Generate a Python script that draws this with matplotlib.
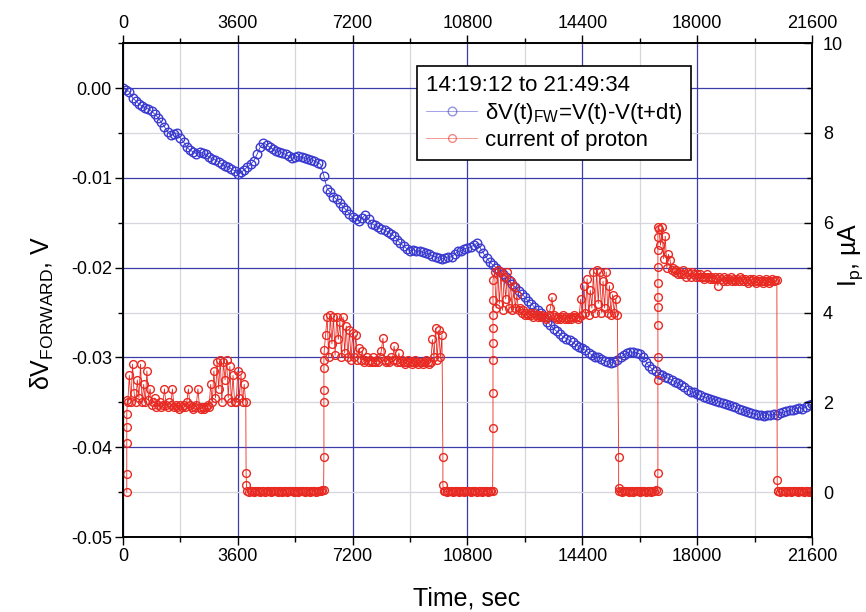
import numpy as np
import matplotlib
matplotlib.use('Agg')
import matplotlib.pyplot as plt
from matplotlib.ticker import MultipleLocator, FuncFormatter

plt.rcParams['font.family'] = ['Liberation Sans', 'DejaVu Sans']
plt.rcParams['mathtext.fontset'] = 'custom'
plt.rcParams['mathtext.rm'] = 'Liberation Sans'
plt.rcParams['mathtext.it'] = 'Liberation Sans:italic'

# forward voltage drift, every 100 s (volts)
dv_t0 = 0
dv_step = 100
dv_v = [0.0000, -0.0002, -0.0004, -0.0011, -0.0014, -0.0018, -0.0020, -0.0022, -0.0023, -0.0026,
        -0.0029, -0.0033, -0.0038, -0.0043, -0.0049, -0.0052, -0.0051, -0.0050, -0.0056, -0.0060,
        -0.0066, -0.0069, -0.0071, -0.0073, -0.0071, -0.0072, -0.0074, -0.0077, -0.0079, -0.0080,
        -0.0082, -0.0085, -0.0087, -0.0088, -0.0090, -0.0092, -0.0096, -0.0094, -0.0091, -0.0088,
        -0.0085, -0.0081, -0.0074, -0.0066, -0.0061, -0.0063, -0.0066, -0.0068, -0.0070, -0.0071,
        -0.0072, -0.0074, -0.0076, -0.0078, -0.0077, -0.0076, -0.0077, -0.0078, -0.0079, -0.0080,
        -0.0081, -0.0083, -0.0085, -0.0098, -0.0112, -0.0116, -0.0121, -0.0124, -0.0128, -0.0132,
        -0.0136, -0.0140, -0.0144, -0.0146, -0.0148, -0.0145, -0.0141, -0.0146, -0.0151, -0.0153,
        -0.0155, -0.0157, -0.0158, -0.0160, -0.0162, -0.0165, -0.0169, -0.0173, -0.0176, -0.0179,
        -0.0181, -0.0180, -0.0182, -0.0181, -0.0183, -0.0184, -0.0185, -0.0187, -0.0188, -0.0189,
        -0.0190, -0.0189, -0.0188, -0.0188, -0.0185, -0.0182, -0.0181, -0.0179, -0.0178, -0.0177,
        -0.0175, -0.0173, -0.0178, -0.0184, -0.0189, -0.0194, -0.0197, -0.0200, -0.0204, -0.0207,
        -0.0210, -0.0214, -0.0218, -0.0222, -0.0226, -0.0229, -0.0233, -0.0237, -0.0240, -0.0244,
        -0.0247, -0.0251, -0.0255, -0.0260, -0.0264, -0.0268, -0.0271, -0.0274, -0.0277, -0.0279,
        -0.0281, -0.0283, -0.0286, -0.0288, -0.0290, -0.0292, -0.0295, -0.0297, -0.0299, -0.0300,
        -0.0302, -0.0304, -0.0305, -0.0306, -0.0305, -0.0303, -0.0300, -0.0297, -0.0295, -0.0294,
        -0.0294, -0.0295, -0.0296, -0.0300, -0.0305, -0.0310, -0.0313, -0.0315, -0.0318, -0.0320,
        -0.0322, -0.0323, -0.0325, -0.0327, -0.0329, -0.0331, -0.0333, -0.0336, -0.0338, -0.0339,
        -0.0341, -0.0342, -0.0344, -0.0345, -0.0346, -0.0347, -0.0348, -0.0350, -0.0351, -0.0352,
        -0.0353, -0.0354, -0.0355, -0.0357, -0.0358, -0.0360, -0.0361, -0.0362, -0.0363, -0.0364,
        -0.0364, -0.0365, -0.0364, -0.0364, -0.0363, -0.0364, -0.0362, -0.0361, -0.0360, -0.0359,
        -0.0358, -0.0357, -0.0356, -0.0357, -0.0355, -0.0353, -0.0352]

# proton current (uA): plateaus read every 50 s, edges caught mid-transition
edge1_t = [120, 120, 120, 120, 120, 140]
edge1_i = [0.0, 0.4, 1.1, 1.45, 1.75, 2.05]
plateau1_t0 = 150
plateau1_i = [2.0, 2.6, 2.0, 2.85, 2.2, 2.0, 2.5, 2.1, 2.85, 2.0,
              2.4, 2.0, 2.7, 2.05, 2.3, 1.95, 2.0, 2.1, 1.9, 1.95,
              2.0, 1.9, 1.95, 2.3, 1.95, 1.9, 2.0, 1.95, 2.3, 1.9,
              1.95, 1.9, 1.85, 1.95, 1.9, 1.95, 1.9, 2.0, 2.3, 1.95,
              1.9, 1.85, 1.9, 1.95, 2.3, 1.9, 1.85, 1.9, 1.85, 1.9,
              1.95, 1.9, 2.4, 2.0, 2.7, 2.1, 2.9, 2.3, 2.95, 2.0,
              2.9, 2.5, 2.95, 2.1, 2.8, 2.0, 2.6, 2.0, 2.0, 2.7,
              2.1, 2.6, 2.0, 2.4]
edge2_t = [3850, 3860, 3870]
edge2_i = [2.0, 0.42, 0.16]
zero1_t0 = 3900
zero1_i = [0.02, 0.0, 0.03, 0.02, 0.0, 0.02, 0.02, 0.03, 0.0, 0.02,
           0.02, 0.0, 0.03, 0.02, 0.02, 0.0, 0.02, 0.03, 0.02, 0.0,
           0.02, 0.02, 0.0, 0.03, 0.02, 0.0, 0.02, 0.02, 0.03, 0.0,
           0.02, 0.02, 0.0, 0.02, 0.03, 0.02, 0.0, 0.02, 0.02, 0.0,
           0.03, 0.02, 0.02, 0.0, 0.02, 0.03, 0.02, 0.05]
edge3_t = [6290, 6300, 6300, 6300, 6300, 6300, 6310]
edge3_i = [0.05, 0.78, 2.0, 2.27, 2.76, 2.94, 3.16]
plateau2_t0 = 6350
plateau2_i = [3.5, 3.9, 3.0, 3.95, 3.3, 3.9, 3.05, 3.9, 3.4, 3.8,
              3.0, 3.9, 3.1, 3.7, 3.0, 3.6, 2.95, 3.55, 3.0, 3.5,
              2.95, 3.2, 2.95, 3.15, 2.9, 2.95, 3.0, 2.9, 2.95, 2.9,
              3.0, 2.9, 2.95, 2.9, 3.0, 3.15, 3.43, 2.95, 2.9, 2.95,
              2.9, 3.0, 2.95, 3.25, 2.95, 2.9, 3.1, 2.9, 2.95, 2.9,
              2.85, 2.9, 2.95, 2.9, 2.85, 2.9, 2.95, 2.9, 2.85, 2.9,
              2.9, 2.85, 2.9, 2.95, 2.9, 2.85, 2.9, 3.4, 3.0, 3.65,
              2.95, 3.6, 3.0, 3.5]
edge4_t = [10030, 10030, 10050]
edge4_i = [0.78, 0.15, 0.02]
zero2_t0 = 10100
zero2_i = [0.02, 0.0, 0.02, 0.03, 0.02, 0.0, 0.02, 0.02, 0.03, 0.0,
           0.02, 0.02, 0.0, 0.02, 0.03, 0.02, 0.0, 0.02, 0.02, 0.03,
           0.0, 0.02, 0.02, 0.0, 0.03, 0.02, 0.02, 0.0, 0.02, 0.03]
edge5_t = [11590, 11600, 11600, 11600, 11600, 11600, 11600, 11600, 11600]
edge5_i = [0.02, 1.43, 2.2, 2.94, 3.32, 3.65, 3.94, 4.28, 4.72]
plateau3_t0 = 11650
plateau3_i = [4.9, 4.1, 4.95, 4.2, 4.9, 4.05, 4.8, 4.3, 4.9, 4.1,
              4.7, 4.05, 4.6, 4.1, 4.4, 4.05, 4.1, 4.0, 4.05, 3.95,
              4.0, 3.95, 4.0, 3.95, 3.9, 4.0, 3.95, 3.9, 3.95, 3.9,
              3.95, 3.9, 3.85, 3.9, 3.95, 4.1, 4.34, 3.95, 3.9, 3.85,
              3.9, 3.85, 3.9, 3.95, 3.85, 3.9, 3.85, 3.9, 3.85, 3.9,
              3.95, 3.9, 3.85, 3.9, 4.3, 3.95, 4.6, 4.0, 4.75, 3.95,
              4.5, 4.1, 4.9, 4.0, 4.95, 4.2, 4.9, 4.0, 4.7, 4.1,
              4.9, 4.0, 4.6, 3.95, 4.4, 4.0, 4.3, 3.95]
edge6_t = [15540, 15540, 15560]
edge6_i = [0.78, 0.1, 0.02]
zero3_t0 = 15600
zero3_i = [0.02, 0.0, 0.02, 0.03, 0.02, 0.0, 0.02, 0.02, 0.0, 0.02,
           0.03, 0.02, 0.0, 0.02, 0.02, 0.03, 0.0, 0.02, 0.02, 0.0,
           0.02, 0.03, 0.05]
edge7_t = [16760, 16770, 16770, 16770, 16770, 16770, 16770, 16770, 16770, 16770,
           16770, 16770]
edge7_i = [0.02, 0.42, 2.49, 3.0, 3.72, 4.12, 4.34, 4.65, 5.01, 5.39, 5.68, 5.9]
plateau4_t0 = 16800
plateau4_i = [5.85, 5.5, 5.9, 5.2, 5.7, 5.0, 5.3, 5.17, 4.95, 5.0,
              4.9, 4.95, 4.85, 4.9, 4.85, 4.95, 4.85, 4.8, 4.9, 4.85,
              4.8, 4.9, 4.85, 4.8, 4.85, 4.8, 4.85, 4.8, 4.75, 4.8,
              4.85, 4.8, 4.75, 4.8, 4.75, 4.8, 4.75, 4.6, 4.8, 4.75,
              4.7, 4.8, 4.75, 4.7, 4.75, 4.8, 4.7, 4.75, 4.7, 4.75,
              4.7, 4.8, 4.75, 4.7, 4.75, 4.7, 4.65, 4.75, 4.7, 4.75,
              4.7, 4.65, 4.7, 4.75, 4.7, 4.65, 4.7, 4.75, 4.7, 4.65,
              4.7, 4.75, 4.7, 4.72]
edge8_t = [20500, 20510, 20520]
edge8_i = [4.72, 0.27, 0.02]
zero4_t0 = 20550
zero4_i = [0.02, 0.0, 0.02, 0.03, 0.02, 0.0, 0.02, 0.02, 0.0, 0.02,
           0.03, 0.02, 0.0, 0.02, 0.02, 0.03, 0.0, 0.02, 0.02, 0.0,
           0.02, 0.02]

legend_title = '14:19:12 to 21:49:34'
dv_label = 'δV(t)$_{\\mathrm{FW}}$=V(t)-V(t+dt)'
ip_label = 'current of proton'

dv_t = dv_t0 + dv_step * np.arange(len(dv_v))

ip_step = 50
pieces = [(edge1_t, edge1_i), (plateau1_t0, plateau1_i), (edge2_t, edge2_i),
          (zero1_t0, zero1_i), (edge3_t, edge3_i), (plateau2_t0, plateau2_i),
          (edge4_t, edge4_i), (zero2_t0, zero2_i), (edge5_t, edge5_i),
          (plateau3_t0, plateau3_i), (edge6_t, edge6_i), (zero3_t0, zero3_i),
          (edge7_t, edge7_i), (plateau4_t0, plateau4_i), (edge8_t, edge8_i),
          (zero4_t0, zero4_i)]
ip_t, ip_i = [], []
for t, vals in pieces:
	if np.isscalar(t):
		t = t + ip_step * np.arange(len(vals))
	ip_t.extend(list(t))
	ip_i.extend(vals)

blue = '#3a3ad0'
red = '#e82a22'

fig = plt.figure(figsize=(8.66, 6.12), dpi=100)
ax = fig.add_axes([0.142, 0.1225, 0.7956, 0.807])
ax2 = ax.twinx()

ax.set_xlim(0, 21600)
ax.set_ylim(-0.05, 0.005)
ax2.set_ylim(-1, 10)

ax.xaxis.set_major_locator(MultipleLocator(3600))
ax.xaxis.set_minor_locator(MultipleLocator(1800))
ax.yaxis.set_major_locator(MultipleLocator(0.01))
ax.yaxis.set_minor_locator(MultipleLocator(0.005))
ax.yaxis.set_major_formatter(FuncFormatter(lambda v, p: '%.2f' % (0.0 if abs(v) < 1e-9 else v)))
ax2.yaxis.set_major_locator(MultipleLocator(2))
ax2.yaxis.set_minor_locator(MultipleLocator(1))

ax.set_axisbelow(True)
ax.grid(which='major', color='#3c3ca8', lw=0.9)
ax.grid(which='minor', color='#d6d6de', lw=0.9)

l1, = ax.plot(dv_t, dv_v, '-o', color=blue, lw=0.6, ms=6.2, mfc='none',
              mec=blue, mew=1.0)
l2, = ax2.plot(ip_t, ip_i, '-o', color=red, lw=0.6, ms=5.6, mfc='none',
               mec=red, mew=1.0)

for side in ['left', 'right', 'top', 'bottom']:
	ax.spines[side].set_linewidth(1.2)
	ax2.spines[side].set_linewidth(1.2)

ax.tick_params(axis='both', which='major', labelsize=13, direction='out',
               length=6, width=1.0, pad=2)
ax.tick_params(axis='both', which='minor', direction='out', length=3.5, width=1.0)
ax.tick_params(axis='x', which='both', top=True, labeltop=True)
ax2.tick_params(axis='y', which='major', labelsize=13, direction='in',
                length=6, width=1.0, pad=8)
ax2.tick_params(axis='y', which='minor', direction='in', length=3.5, width=1.0)

ax.set_xlabel('Time, sec', fontsize=18)
ax.set_ylabel('δV$_{\\mathrm{FORWARD}}$, V', fontsize=18)
ax2.set_ylabel('I$_{\\mathrm{p}}$, µA', fontsize=18)
ax.xaxis.set_label_coords(0.499, -0.1)
ax.yaxis.set_label_coords(-0.097, 0.453)
ax2.yaxis.set_label_coords(1.036, 0.572)

leg = ax2.legend([l1, l2], [dv_label, ip_label], title=legend_title,
                 loc='upper left', bbox_to_anchor=(0.427, 0.953),
                 borderaxespad=0, fontsize=16, title_fontsize=16,
                 alignment='left', fancybox=False, edgecolor='black',
                 framealpha=1, handlelength=2.3, borderpad=0.4,
                 labelspacing=0.2, handletextpad=0.35)
leg.get_frame().set_linewidth(1.2)
for h in leg.legend_handles:
	h.set_alpha(0.55)

fig.savefig('out.png', dpi=100)
